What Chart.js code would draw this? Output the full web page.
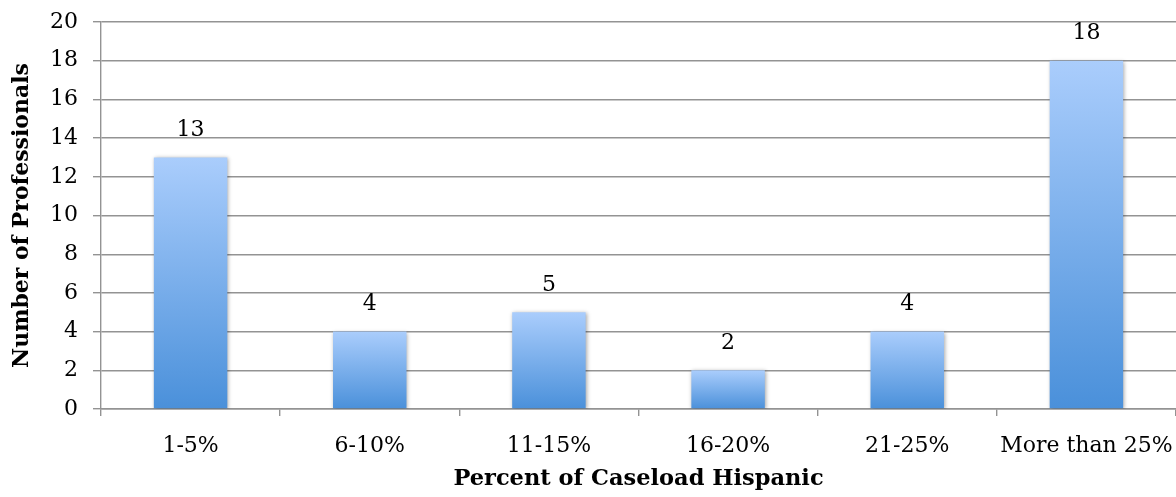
<!DOCTYPE html>
<html>
<head>
<meta charset="utf-8">
<script src="https://cdn.jsdelivr.net/npm/chart.js@4"></script>
<style>
  html, body { margin: 0; padding: 0; background: #fff; }
  #wrap { width: 1176px; height: 497px; }
</style>
</head>
<body>
<div id="wrap"><canvas id="c" width="1176" height="497"></canvas></div>
<script>
const categories = ['1-5%', '6-10%', '11-15%', '16-20%', '21-25%', 'More than 25%'];
const professionals = [13, 4, 5, 2, 4, 18];
const yTicks = [0, 2, 4, 6, 8, 10, 12, 14, 16, 18, 20];

const FONT = "'DejaVu Serif', 'Liberation Serif', serif";

// Vertical light-to-dark blue fill for each bar, spanning the bar's own height
function barGradient(context) {
  const chart = context.chart;
  const yScale = chart.scales && chart.scales.y;
  if (!yScale || !chart.chartArea || context.parsed == null) return '#7fb0ee';
  const top = yScale.getPixelForValue(context.parsed.y);
  const bottom = yScale.getPixelForValue(0);
  if (!isFinite(top) || !isFinite(bottom) || bottom - top < 1) return '#7fb0ee';
  const g = chart.ctx.createLinearGradient(0, top, 0, bottom);
  g.addColorStop(0, '#aacdfc');
  g.addColorStop(1, '#4a90da');
  return g;
}

// Soft drop shadow behind the bars
const barShadow = {
  id: 'barShadow',
  beforeDatasetDraw(chart) {
    const ctx = chart.ctx;
    ctx.save();
    ctx.shadowColor = 'rgba(0,0,0,0.35)';
    ctx.shadowBlur = 4;
    ctx.shadowOffsetX = 1;
    ctx.shadowOffsetY = 1;
  },
  afterDatasetDraw(chart) {
    chart.ctx.restore();
  }
};

// Value labels above each bar
const valueLabels = {
  id: 'valueLabels',
  afterDatasetsDraw(chart) {
    const ctx = chart.ctx;
    const meta = chart.getDatasetMeta(0);
    const data = chart.data.datasets[0].data;
    ctx.save();
    ctx.font = "22px " + FONT;
    ctx.fillStyle = '#000';
    ctx.textAlign = 'center';
    ctx.textBaseline = 'middle';
    meta.data.forEach((bar, i) => {
      ctx.fillText(String(data[i]), bar.x, bar.y - 27);
    });
    ctx.restore();
  }
};

new Chart(document.getElementById('c'), {
  type: 'bar',
  data: {
    labels: categories,
    datasets: [{
      data: professionals,
      backgroundColor: barGradient,
      borderWidth: 0,
      categoryPercentage: 1.0,
      barPercentage: 0.41
    }]
  },
  options: {
    responsive: false,
    animation: false,
    devicePixelRatio: 1,
    layout: { padding: { left: 0, top: 22, right: 0, bottom: 0 } },
    plugins: {
      legend: { display: false },
      tooltip: { enabled: false }
    },
    scales: {
      x: {
        grid: {
          offset: true,
          drawOnChartArea: false,
          drawTicks: true,
          tickLength: 7,
          color: '#939393',
          lineWidth: 1.4
        },
        border: { display: true, color: '#939393', width: 1.4 },
        ticks: {
          color: '#000',
          font: { family: FONT, size: 22 },
          padding: 17,
          maxRotation: 0,
          autoSkip: false
        },
        title: {
          display: true,
          text: 'Percent of Caseload Hispanic',
          color: '#000',
          font: { family: FONT, size: 22.5, weight: 'bold' },
          padding: { top: 0, bottom: 4 }
        },
        afterFit(scale) {
          scale.height = 88;
          scale.paddingLeft = 0;
          scale.paddingRight = 0;
        }
      },
      y: {
        min: 0,
        max: 20,
        afterBuildTicks(scale) { scale.ticks = yTicks.map(v => ({ value: v })); },
        grid: {
          color: '#939393',
          lineWidth: 1.4,
          tickLength: 8
        },
        border: { display: true, color: '#939393', width: 1.4 },
        ticks: {
          color: '#000',
          font: { family: FONT, size: 22 },
          padding: 15
        },
        title: {
          display: true,
          text: 'Number of Professionals',
          color: '#000',
          font: { family: FONT, size: 22, weight: 'bold' },
          padding: { top: 9, bottom: 0 }
        },
        afterFit(scale) {
          scale.width = 101;
          scale.paddingTop = 0;
          scale.paddingBottom = 0;
        }
      }
    }
  },
  plugins: [barShadow, valueLabels]
});
</script>
</body>
</html>
